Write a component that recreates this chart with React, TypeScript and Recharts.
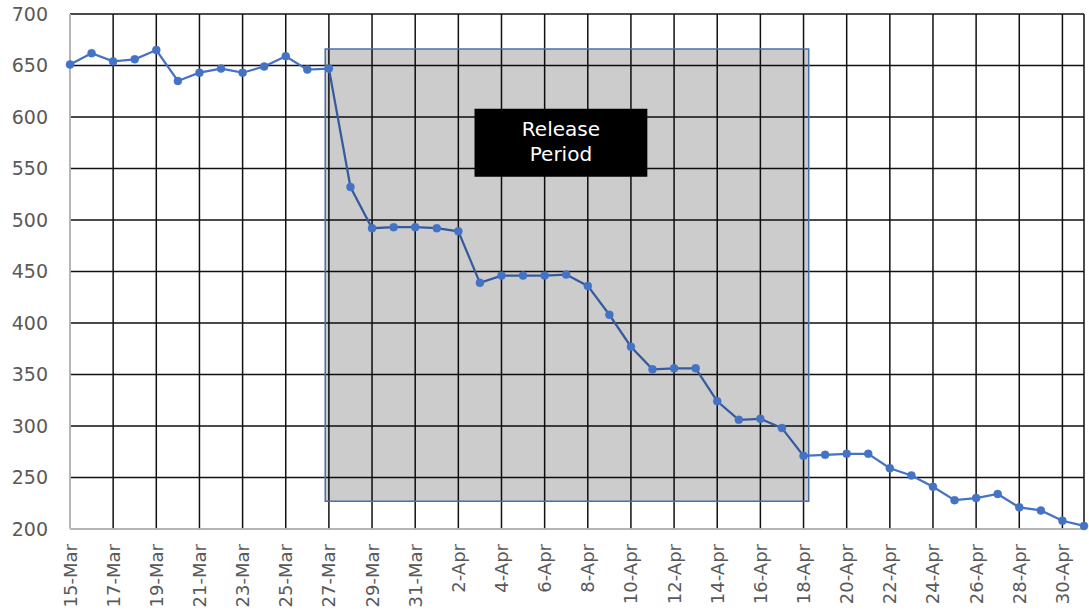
import React from "react";
import { LineChart, Line, XAxis, YAxis, CartesianGrid, ReferenceArea } from "recharts";

const dates = [
  "15-Mar", "16-Mar", "17-Mar", "18-Mar", "19-Mar", "20-Mar", "21-Mar", "22-Mar", "23-Mar",
  "24-Mar", "25-Mar", "26-Mar", "27-Mar", "28-Mar", "29-Mar", "30-Mar", "31-Mar",
  "1-Apr", "2-Apr", "3-Apr", "4-Apr", "5-Apr", "6-Apr", "7-Apr", "8-Apr", "9-Apr", "10-Apr",
  "11-Apr", "12-Apr", "13-Apr", "14-Apr", "15-Apr", "16-Apr", "17-Apr", "18-Apr", "19-Apr",
  "20-Apr", "21-Apr", "22-Apr", "23-Apr", "24-Apr", "25-Apr", "26-Apr", "27-Apr", "28-Apr",
  "29-Apr", "30-Apr", "1-May",
];

const values = [
  651, 662, 654, 656, 665, 635, 643, 647, 643, 649, 659, 646, 647, 532, 492, 493, 493,
  492, 489, 439, 446, 446, 446, 447, 436, 408, 377, 355, 356, 356, 324, 306, 307, 298,
  271, 272, 273, 273, 259, 252, 241, 228, 230, 234, 221, 218, 208, 203,
];

const yTicks = [200, 250, 300, 350, 400, 450, 500, 550, 600, 650, 700];
const xTicks = dates.map((_, i) => i).filter((i) => i % 2 === 0);

const data = dates.map((date, i) => ({ i, date, value: values[i] }));

const FONT = "'DejaVu Sans', sans-serif";
const TICK_COLOR = "#595959";
const BLUE = "#4472C4";

function DateTick(props: any) {
  const { x, y, payload } = props;
  return (
    <g transform={`translate(${x},${y})`}>
      <text
        transform="rotate(-90)"
        textAnchor="end"
        dominantBaseline="central"
        fill={TICK_COLOR}
        fontSize={18}
        fontFamily={FONT}
      >
        {dates[payload.value]}
      </text>
    </g>
  );
}

function PeriodLabel(props: any) {
  const { x, y, width, height } = props.viewBox;
  const cx = x + width / 2;
  const cy = y + height / 2;
  return (
    <text textAnchor="middle" fill="#fff" fontSize={20} fontFamily={FONT}>
      <tspan x={cx} y={cy - 7}>Release</tspan>
      <tspan x={cx} y={cy + 18}>Period</tspan>
    </text>
  );
}

export default function App() {
  return (
    <div style={{ position: "absolute", left: 0, top: 0, width: 1089, height: 611, background: "#fff" }}>
      <LineChart width={1089} height={611} data={data} margin={{ top: 14, right: 5, left: 10, bottom: 2 }}>
        <CartesianGrid stroke="#111" strokeWidth={1.5} />
        <XAxis
          dataKey="i"
          type="number"
          domain={[0, 47]}
          ticks={xTicks}
          interval={0}
          height={80}
          tickSize={0}
          tickMargin={15}
          tickLine={false}
          axisLine={{ stroke: "#d9d9d9", strokeWidth: 1.5 }}
          tick={<DateTick />}
        />
        <YAxis
          domain={[200, 700]}
          ticks={yTicks}
          width={60}
          tickSize={0}
          tickMargin={22}
          tickLine={false}
          axisLine={{ stroke: "#d9d9d9", strokeWidth: 1.5 }}
          tick={{ fill: TICK_COLOR, fontSize: 19, fontFamily: FONT }}
        />
        <Line
          type="linear"
          dataKey="value"
          stroke={BLUE}
          strokeWidth={2.25}
          dot={{ r: 4, fill: BLUE, stroke: BLUE, strokeWidth: 0.5 }}
          activeDot={false}
          isAnimationActive={false}
        />
        <ReferenceArea
          x1={11.83}
          x2={34.24}
          y1={227}
          y2={666}
          fill="#000"
          fillOpacity={0.2}
          stroke="#4a6fae"
          strokeWidth={1.5}
          zIndex={450}
          ifOverflow="visible"
        />
        <ReferenceArea
          x1={18.75}
          x2={26.76}
          y1={542}
          y2={608}
          fill="#000"
          fillOpacity={1}
          stroke="none"
          zIndex={460}
          ifOverflow="visible"
          label={<PeriodLabel />}
        />
      </LineChart>
    </div>
  );
}
